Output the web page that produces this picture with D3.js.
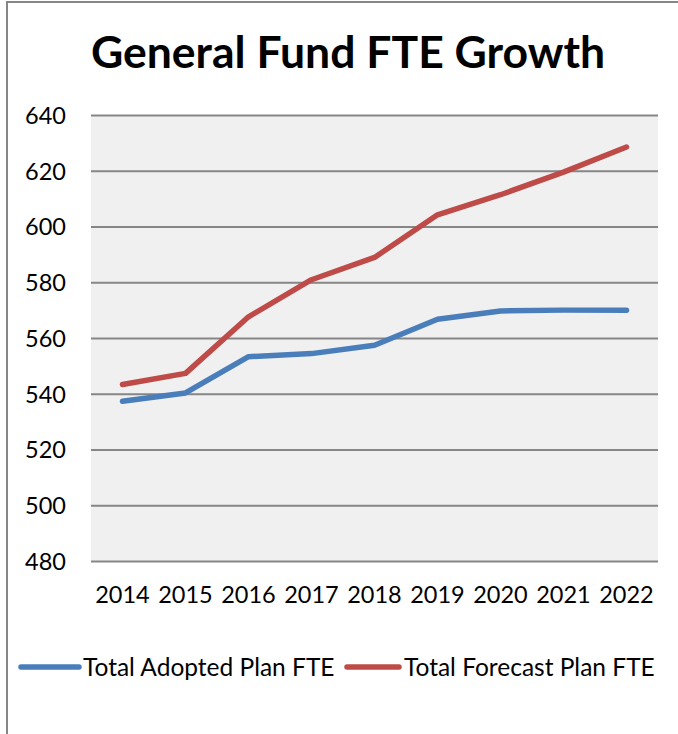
<!DOCTYPE html>
<html>
<head>
<meta charset="utf-8">
<script src="https://cdn.jsdelivr.net/npm/d3@7"></script>
<style>
  html, body { margin: 0; padding: 0; background: #ffffff; }
  svg { display: block; }
  text { font-family: Lato, "Open Sans", sans-serif; fill: #000; }
</style>
</head>
<body>
<svg id="chart" width="678" height="734"></svg>
<script>
// Fiscal years on the category axis
const years = ["2014", "2015", "2016", "2017", "2018", "2019", "2020", "2021", "2022"];
// FTE totals per year
const adoptedPlan = [537.3, 540.3, 553.3, 554.4, 557.4, 566.7, 569.7, 570.0, 570.0];
const forecastPlan = [543.3, 547.3, 567.6, 580.9, 588.9, 604.2, 611.4, 619.5, 628.5];
// Value axis ticks
const yTicks = [480, 500, 520, 540, 560, 580, 600, 620, 640];
const seriesNames = ["Total Adopted Plan FTE", "Total Forecast Plan FTE"];
const seriesColors = ["#4a7ebb", "#be4b48"];

const svg = d3.select("#chart");
const W = 678, H = 734;
const plot = { left: 91, right: 658, top: 115, bottom: 561 };

// Outer chart frame (continues past the right and bottom edges)
svg.append("rect")
  .attr("x", 7).attr("y", 2)
  .attr("width", W + 20).attr("height", H + 20)
  .attr("fill", "#fff")
  .attr("stroke", "#868686").attr("stroke-width", 2);

// Title
svg.append("text")
  .attr("x", 348).attr("y", 68)
  .attr("text-anchor", "middle")
  .style("font-size", "44.5px").style("font-weight", "700")
  .text("General Fund FTE Growth");

const x = d3.scaleBand().domain(years).range([plot.left, plot.right]);
const y = d3.scaleLinear().domain([480, 640]).range([plot.bottom, plot.top]);

// Plot area background
svg.append("rect")
  .attr("x", plot.left).attr("y", plot.top)
  .attr("width", plot.right - plot.left).attr("height", plot.bottom - plot.top)
  .attr("fill", "#f0f0f0");

// Horizontal gridlines + y labels via axis
const yAxis = svg.append("g")
  .attr("transform", `translate(${plot.left},0)`)
  .call(d3.axisLeft(y).tickValues(yTicks).tickSize(-(plot.right - plot.left)).tickPadding(25).tickFormat(d3.format("d")));
yAxis.select(".domain").remove();
yAxis.selectAll(".tick line").attr("stroke", "#868686").attr("stroke-width", 2);
yAxis.selectAll(".tick text")
  .style("font-size", "23.5px").style("font-family", "Lato, 'Open Sans', sans-serif")
  .attr("fill", "#000").attr("dy", "0.36em");

// Category labels
const xAxis = svg.append("g")
  .attr("transform", `translate(0,${plot.bottom})`)
  .call(d3.axisBottom(x).tickSize(0).tickPadding(25));
xAxis.select(".domain").remove();
xAxis.selectAll(".tick text")
  .style("font-size", "23.5px").style("font-family", "Lato, 'Open Sans', sans-serif")
  .attr("fill", "#000");

// Series lines
const line = d3.line()
  .x((d, i) => x(years[i]) + x.bandwidth() / 2)
  .y(d => y(d));

[adoptedPlan, forecastPlan].forEach((vals, k) => {
  svg.append("path")
    .datum(vals)
    .attr("d", line)
    .attr("fill", "none")
    .attr("stroke", seriesColors[k])
    .attr("stroke-width", 5.5)
    .attr("stroke-linejoin", "round")
    .attr("stroke-linecap", "round");
});

// Legend
const legendY = 667;
const legendItems = [
  { x0: 21, x1: 79, tx: 83 },
  { x0: 347, x1: 399, tx: 404 }
];
legendItems.forEach((it, k) => {
  svg.append("line")
    .attr("x1", it.x0).attr("x2", it.x1)
    .attr("y1", legendY).attr("y2", legendY)
    .attr("stroke", seriesColors[k]).attr("stroke-width", 5.5)
    .attr("stroke-linecap", "round");
  svg.append("text")
    .attr("x", it.tx).attr("y", legendY)
    .attr("dy", "0.36em")
    .style("font-size", "24.5px")
    .text(seriesNames[k]);
});
</script>
</body>
</html>
